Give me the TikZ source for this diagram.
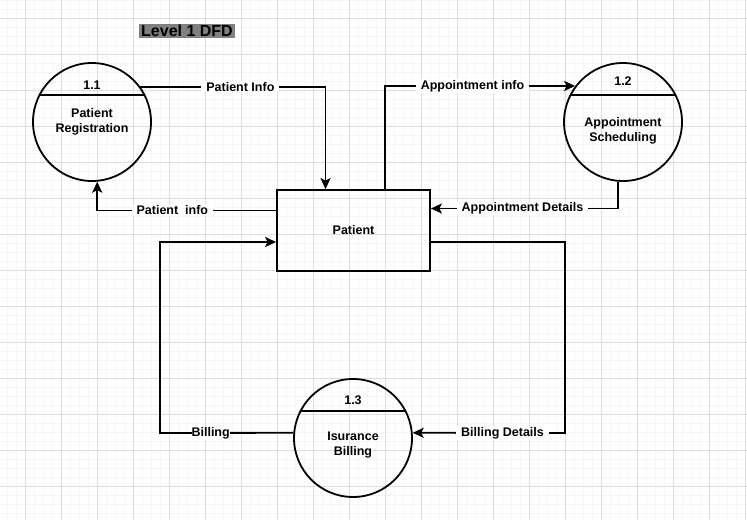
\documentclass[tikz,border=0pt]{standalone}
\usepackage{fontspec}
\setmainfont{Liberation Sans}
\usetikzlibrary{arrows.meta,positioning}
\definecolor{gridminor}{HTML}{F6F6F6}
\definecolor{gridmajor}{HTML}{DDDDDD}
\definecolor{titlegray}{HTML}{808080}

\begin{document}
\begin{tikzpicture}[x=1pt,y=-1pt,line width=1.8pt,
    proc/.style={circle,draw,minimum size=118pt,inner sep=0pt},
    ext/.style={rectangle,draw,minimum width=153pt,minimum height=81pt,
      font=\bfseries\fontsize{12.5}{15}\selectfont},
    txt/.style={font=\bfseries\fontsize{12.5}{15}\selectfont,align=center,inner sep=1pt},
    lbl/.style={txt,fill=white,inner xsep=5pt,inner ysep=1pt},
    flow/.style={-{Stealth[length=11pt,width=10pt,inset=2.5pt]}}]
    \useasboundingbox (0,0) rectangle (747,520);
    % grid
    \foreach \x in {7,16,...,745} \draw[gridminor,line width=0.6pt] (\x,0) -- (\x,520);
    \foreach \y in {0,9,...,520} \draw[gridminor,line width=0.6pt] (0,\y) -- (747,\y);
    \foreach \x in {25,61,...,745} \draw[gridmajor,line width=0.6pt] (\x,0) -- (\x,520);
    \foreach \y in {18,54,...,520} \draw[gridmajor,line width=0.6pt] (0,\y) -- (747,\y);

    \node[fill=titlegray,font=\bfseries\fontsize{16}{18}\selectfont,
      inner xsep=2pt,inner ysep=1pt] (ttl) at (187,31) {Level 1 DFD};

    \node[ext] (Pat) at (353.5,230.5) {Patient};
    \node[proc] (P_1) at (92,122) {};
    \node[proc] (P_2) at (623,122) {};
    \node[proc] (P_3) at (353,438) {};
    \draw (P_1.153) -- (P_1.27);
    \draw (P_2.153) -- (P_2.27);
    \draw (P_3.153) -- (P_3.27);
    \node[txt] (N_1) at ([yshift=37pt]P_1.center) {1.1};
    \node[txt] (N_2) at ([yshift=41pt]P_2.center) {1.2};
    \node[txt] (N_3) at ([yshift=38pt]P_3.center) {1.3};
    \node[txt] (T_1) at (P_1.center) {Patient\\Registration};
    \node[txt] (T_2) at ([yshift=-9pt]P_2.center) {Appointment\\Scheduling};
    \node[txt] (T_3) at ([yshift=-7pt]P_3.center) {Isurance\\Billing};

    \coordinate (bd) at (565,433);
    \coordinate (bl) at (160,433);
    \draw[flow] (P_1.36) -| node[lbl,pos=0.27] {Patient Info} ([xshift=-28pt]Pat.north);
    \draw[flow] ([yshift=20pt]Pat.west) -| node[lbl,pos=0.29] {Patient\ \ info} (P_1.-85);
    \draw[flow] ([xshift=31.5pt]Pat.north) |- node[lbl,pos=0.73] {Appointment info} (P_2.143);
    \draw[flow] (P_2.-95) |- node[lbl,pos=0.755] {Appointment Details} ([yshift=22pt]Pat.east);
    \draw[flow] ([yshift=-11.5pt]Pat.east) -| (bd) -- node[lbl,pos=0.41] {Billing Details} (P_3.5);
    \draw[flow] (P_3.175) -- node[lbl,pos=0.62,inner xsep=0pt] {Billing} (bl) |- ([yshift=-11.5pt]Pat.west);
\end{tikzpicture}
\end{document}
